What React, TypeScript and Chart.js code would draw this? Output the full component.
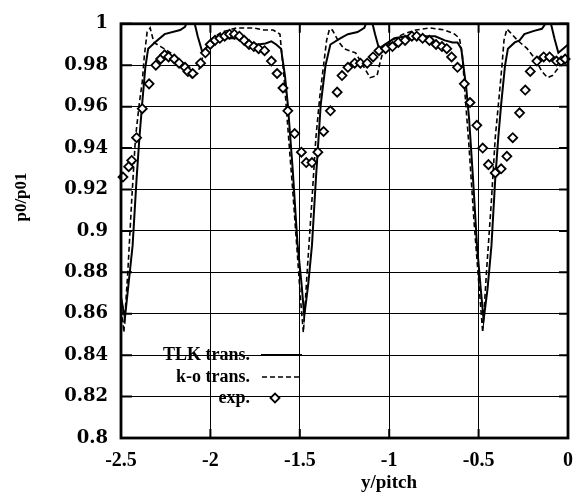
import React, { useEffect, useRef } from 'react';
import { Chart, registerables } from 'chart.js';

Chart.register(...registerables);

// ---- tick labels ----
const xTicks = [-2.5, -2, -1.5, -1, -0.5, 0];
const yTicks = [0.8, 0.82, 0.84, 0.86, 0.88, 0.9, 0.92, 0.94, 0.96, 0.98, 1];

const xTitle = 'y/pitch';
const yTitle = 'p0/p01';
const legendLabels = ['TLK trans.', 'k-o trans.', 'exp.'];

// ---- TLK trans. (solid) ----
const tlkX = [
  -2.5, -2.478, -2.435, -2.413, -2.397, -2.381, -2.364, -2.348, -2.311, -2.256, -2.169, -2.142, -2.12, -2.093, -2.071, -2.044,
  -2.017, -1.979, -1.925, -1.855, -1.79, -1.735, -1.692, -1.659, -1.632, -1.605,
  -1.583, -1.567, -1.54, -1.513, -1.491, -1.475, -1.453, -1.432, -1.41, -1.383, -1.356, -1.329, -1.274, -1.231, -1.177, -1.139,
  -1.123, -1.096, -1.079, -1.057, -1.025, -0.971, -0.906, -0.824, -0.743, -0.689, -0.645, -0.618, -0.597,
  -0.569, -0.553, -0.531, -0.509, -0.488, -0.472, -0.45, -0.428, -0.407, -0.39, -0.374, -0.352, -0.336, -0.298, -0.271, -0.244,
  -0.19, -0.146, -0.13, -0.114, -0.098, -0.076, -0.054, -0.027, 0,
];
const tlkY = [
  0.868, 0.858, 0.893, 0.925, 0.945, 0.962, 0.979, 0.988, 0.991, 0.995, 0.997, 0.9985, 1.003, 1.002, 0.994, 0.986,
  0.989, 0.991, 0.993, 0.993, 0.991, 0.99, 0.9905, 0.9915, 0.99, 0.988,
  0.975, 0.961, 0.93, 0.894, 0.875, 0.859, 0.874, 0.893, 0.925, 0.961, 0.98, 0.99, 0.993, 0.995, 0.996, 0.998,
  1.002, 1.001, 0.995, 0.988, 0.99, 0.993, 0.994, 0.994, 0.994, 0.992, 0.991, 0.991, 0.988,
  0.969, 0.954, 0.925, 0.893, 0.872, 0.857, 0.872, 0.893, 0.925, 0.945, 0.961, 0.98, 0.988, 0.991, 0.992, 0.995,
  0.9966, 0.9976, 0.9995, 1.003, 1.001, 0.993, 0.986, 0.988, 0.99,
];

// ---- k-o trans. (dashed) ----
const koX = [
  -2.5, -2.484, -2.462, -2.44, -2.419, -2.397, -2.381, -2.37, -2.354, -2.337, -2.316, -2.278, -2.223, -2.18, -2.137, -2.104,
  -2.071, -2.05, -2.028, -1.99, -1.936, -1.855, -1.757, -1.703, -1.649, -1.611,
  -1.589, -1.567, -1.54, -1.513, -1.497, -1.48, -1.459, -1.432, -1.41, -1.388, -1.367, -1.35, -1.334, -1.318, -1.28, -1.253,
  -1.188, -1.134, -1.107, -1.068, -1.052, -1.03, -0.987, -0.922, -0.851, -0.77, -0.689, -0.634, -0.607,
  -0.591, -0.575, -0.553, -0.526, -0.499, -0.477, -0.456, -0.428, -0.407, -0.385, -0.369, -0.358, -0.342, -0.325, -0.282,
  -0.228, -0.184, -0.146, -0.114, -0.087, -0.06, -0.033, 0,
];
const koY = [
  0.866, 0.851, 0.88, 0.915, 0.945, 0.962, 0.972, 0.984, 0.996, 0.998, 0.991, 0.989, 0.986, 0.982, 0.977, 0.974,
  0.976, 0.982, 0.988, 0.993, 0.996, 0.998, 0.998, 0.997, 0.997, 0.995,
  0.975, 0.95, 0.92, 0.888, 0.868, 0.851, 0.88, 0.915, 0.945, 0.965, 0.98, 0.992, 0.9975, 0.997, 0.991, 0.988,
  0.986, 0.978, 0.974, 0.975, 0.981, 0.988, 0.992, 0.995, 0.997, 0.998, 0.997, 0.995, 0.993,
  0.985, 0.965, 0.94, 0.905, 0.875, 0.851, 0.88, 0.915, 0.945, 0.965, 0.98, 0.992, 0.9975, 0.996, 0.992,
  0.988, 0.983, 0.977, 0.974, 0.975, 0.978, 0.982, 0.986,
];

// ---- exp. (diamonds) ----
const expX = [
  -2.489, -2.457, -2.44, -2.413, -2.381, -2.343, -2.305, -2.278, -2.256, -2.234, -2.202, -2.175, -2.142, -2.126, -2.099,
  -2.055, -2.028, -2.001, -1.974, -1.947, -1.92, -1.893, -1.866, -1.838, -1.811, -1.784, -1.757, -1.73, -1.697,
  -1.659, -1.627, -1.594, -1.567, -1.529, -1.491, -1.464, -1.432, -1.399, -1.367, -1.329, -1.291, -1.264, -1.231,
  -1.193, -1.161, -1.123, -1.09, -1.057, -1.02, -0.982, -0.949, -0.911, -0.873, -0.846, -0.813, -0.775, -0.738,
  -0.705, -0.678, -0.651, -0.618, -0.58, -0.548, -0.51, -0.477, -0.445, -0.407, -0.374, -0.342, -0.309, -0.271,
  -0.239, -0.211, -0.174, -0.136, -0.103, -0.065, -0.038, -0.016,
];
const expY = [
  0.926, 0.931, 0.934, 0.945, 0.959, 0.971, 0.98, 0.983, 0.985, 0.984, 0.983, 0.981, 0.979, 0.977, 0.976,
  0.981, 0.986, 0.99, 0.992, 0.993, 0.994, 0.995, 0.995, 0.994, 0.992, 0.99, 0.989, 0.988, 0.987,
  0.982, 0.976, 0.969, 0.958, 0.947, 0.938, 0.933, 0.933, 0.938, 0.948, 0.958, 0.967, 0.975, 0.979,
  0.981, 0.981, 0.981, 0.984, 0.987, 0.988, 0.989, 0.991, 0.992, 0.994, 0.994, 0.993, 0.992, 0.99,
  0.989, 0.988, 0.984, 0.979, 0.971, 0.962, 0.951, 0.94, 0.932, 0.928, 0.93, 0.936, 0.945, 0.957,
  0.968, 0.977, 0.982, 0.984, 0.984, 0.982, 0.982, 0.983,
];

const pts = (xs: number[], ys: number[]) => xs.map((x, i) => ({ x, y: ys[i] }));

const SERIF = "'Liberation Serif', 'Times New Roman', serif";

const framePlugin = {
  id: 'frameTicks',
  afterDraw(chart: any) {
    const { ctx, chartArea: a } = chart;
    const xs = chart.scales.x;
    const ys = chart.scales.y;
    ctx.save();
    ctx.strokeStyle = '#000';
    ctx.lineWidth = 2;
    ctx.setLineDash([]);
    const tl = 9;
    ctx.beginPath();
    xTicks.forEach((v) => {
      const px = xs.getPixelForValue(v);
      ctx.moveTo(px, a.bottom);
      ctx.lineTo(px, a.bottom - tl);
      ctx.moveTo(px, a.top);
      ctx.lineTo(px, a.top + tl);
    });
    yTicks.forEach((v) => {
      const py = ys.getPixelForValue(v);
      ctx.moveTo(a.left, py);
      ctx.lineTo(a.left + tl + 2, py);
      ctx.moveTo(a.right, py);
      ctx.lineTo(a.right - tl, py);
    });
    ctx.stroke();
    ctx.lineWidth = 2.8;
    ctx.strokeRect(a.left, a.top, a.right - a.left, a.bottom - a.top);

    // legend
    ctx.fillStyle = '#000';
    ctx.font = `bold 18px ${SERIF}`;
    ctx.textAlign = 'right';
    ctx.textBaseline = 'middle';
    const lx = 250;
    const rows = [355, 377, 398];
    legendLabels.forEach((t, i) => ctx.fillText(t, lx, rows[i]));
    ctx.lineWidth = 2;
    ctx.beginPath();
    ctx.moveTo(261, rows[0]);
    ctx.lineTo(302, rows[0]);
    ctx.stroke();
    ctx.lineWidth = 1.6;
    ctx.setLineDash([5, 3]);
    ctx.beginPath();
    ctx.moveTo(262, rows[1]);
    ctx.lineTo(300, rows[1]);
    ctx.stroke();
    ctx.setLineDash([]);
    ctx.lineWidth = 1.8;
    ctx.fillStyle = '#fff';
    ctx.beginPath();
    const dx = 275, dy = rows[2], r = 4.5;
    ctx.moveTo(dx - r, dy);
    ctx.lineTo(dx, dy - r);
    ctx.lineTo(dx + r, dy);
    ctx.lineTo(dx, dy + r);
    ctx.closePath();
    ctx.fill();
    ctx.stroke();

    // axis titles
    ctx.fillStyle = '#000';
    ctx.font = `bold 19px ${SERIF}`;
    ctx.textAlign = 'center';
    ctx.textBaseline = 'middle';
    ctx.fillText(xTitle, 389, 483);
    ctx.save();
    ctx.translate(22, 197);
    ctx.rotate(-Math.PI / 2);
    ctx.font = `bold 17px ${SERIF}`;
    ctx.fillText(yTitle, 0, 0);
    ctx.restore();
    ctx.restore();
  },
};

export default function App() {
  const ref = useRef<HTMLCanvasElement | null>(null);
  useEffect(() => {
    if (!ref.current) return;
    const chart = new Chart(ref.current, {
      type: 'scatter',
      data: {
        datasets: [
          {
            label: legendLabels[2],
            data: pts(expX, expY),
            showLine: false,
            pointStyle: 'rectRot',
            pointRadius: 4.5,
            pointBackgroundColor: '#fff',
            pointBorderColor: '#000',
            pointBorderWidth: 1.8,
            clip: false,
            order: 0,
          },
          {
            label: legendLabels[0],
            data: pts(tlkX, tlkY),
            showLine: true,
            borderColor: '#000',
            borderWidth: 2,
            pointRadius: 0,
            tension: 0,
            clip: 0,
            order: 1,
          },
          {
            label: legendLabels[1],
            data: pts(koX, koY),
            showLine: true,
            borderColor: '#000',
            borderWidth: 1.6,
            borderDash: [5, 3],
            pointRadius: 0,
            tension: 0,
            clip: 0,
            order: 2,
          },
        ] as any,
      },
      options: {
        responsive: false,
        animation: false,
        events: [],
        layout: { padding: { top: 17, right: 2, left: 0, bottom: 0 } },
        plugins: { legend: { display: false }, tooltip: { enabled: false } },
        scales: {
          x: {
            type: 'linear',
            min: -2.5,
            max: 0,
            afterBuildTicks: (s: any) => {
              s.ticks = xTicks.map((v) => ({ value: v }));
            },
            afterFit: (s: any) => {
              s.height = 59;
            },
            border: { display: false },
            grid: { color: '#000', lineWidth: 1, borderDash: [2, 2], drawTicks: false } as any,
            ticks: {
              padding: 11,
              color: '#000',
              maxRotation: 0,
              autoSkip: false,
              font: { family: SERIF, size: 20, weight: 'bold' },
              callback: (v: any) => String(Number(Number(v).toFixed(2))),
            },
          },
          y: {
            type: 'linear',
            min: 0.8,
            max: 1,
            afterBuildTicks: (s: any) => {
              s.ticks = yTicks.map((v) => ({ value: v }));
            },
            afterFit: (s: any) => {
              s.width = 121;
            },
            border: { display: false },
            grid: { color: '#000', lineWidth: 1, borderDash: [2, 2], drawTicks: false } as any,
            ticks: {
              padding: 13,
              color: '#000',
              autoSkip: false,
              font: { family: "'DejaVu Serif', serif", size: 18, weight: 'bold' },
              callback: (v: any) => String(Number(Number(v).toFixed(2))),
            },
          },
        },
      },
      plugins: [framePlugin],
    });
    return () => chart.destroy();
  }, []);
  return (
    <div style={{ position: 'fixed', left: 0, top: 0, width: 584, height: 497, background: '#fff' }}>
      <canvas ref={ref} width={584} height={497} style={{ display: 'block' }} />
    </div>
  );
}
